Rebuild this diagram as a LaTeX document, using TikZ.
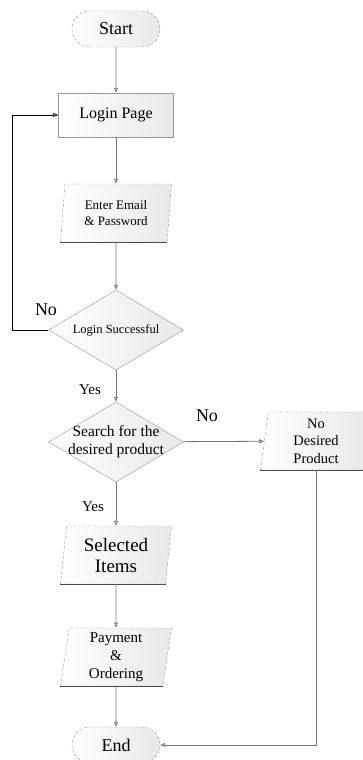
\documentclass[tikz,border=0pt]{standalone}
\usepackage{fontspec}
\setmainfont{Liberation Serif}
\usetikzlibrary{shapes.geometric,shapes.misc,arrows.meta}

\tikzset{
  shade/.style={left color=white, right color=gray!18},
  term/.style={rounded rectangle, shade, draw=gray!80, densely dashed,
    minimum width=88, minimum height=36, inner sep=0, font=\fontsize{18}{20}\selectfont},
  procbox/.style={rectangle, shade, draw=gray!80, minimum width=115, minimum height=44,
    font=\fontsize{16}{18}\selectfont},
  iobox/.style={trapezium, trapezium left angle=80, trapezium right angle=100,
    trapezium stretches body, shade, draw=gray!80, densely dashed,
    minimum width=111, minimum height=58, inner sep=0, align=center},
  decide/.style={diamond, shade, draw=gray!80, minimum width=135, minimum height=80, inner sep=0},
  lbl/.style={font=\fontsize{15}{17}\selectfont},
  line/.style={draw=gray!90!black, line width=0.8,
    -{Triangle[open,length=5,width=4]}}
}

\begin{document}
\begin{tikzpicture}[x=1pt,y=-1pt]
\useasboundingbox (0,0) rectangle (362,760);

\node[term] (start) at (116,29) {Start};
\node[procbox] (login) at (116,115) {Login Page};
\node[iobox,font=\fontsize{13}{16}\selectfont] (enter) at (116,213) {Enter Email\\\& Password};
\node[decide,label={[font=\fontsize{12.5}{15}\selectfont]center:Login Successful}] (ok) at (116,330) {};
\node[decide,label={[font=\fontsize{15.5}{18}\selectfont,align=center]center:Search for the\\desired product}] (search) at (116,442) {};
\node[iobox,font=\fontsize{14.5}{17.5}\selectfont] (nodp) at (316,441) {No\\Desired\\Product};
\node[iobox,font=\fontsize{19}{21}\selectfont] (items) at (116,555) {Selected\\Items};
\node[iobox,font=\fontsize{15}{18}\selectfont] (pay) at (116,657) {Payment\\\&\\Ordering};
\node[term] (end) at (116,745) {End};

% solid bottom edges
\draw[gray!60!black] (enter.bottom left corner) -- (enter.bottom right corner);
\draw[gray!60!black] (nodp.bottom left corner) -- (nodp.bottom right corner);
\draw[gray!60!black] (items.bottom left corner) -- (items.bottom right corner);
\draw[gray!60!black] (pay.bottom left corner) -- (pay.bottom right corner);

\node[lbl,font=\fontsize{18}{20}\selectfont] (no1) at (46,310) {No};
\node[lbl] (yes1) at (90,390) {Yes};
\node[lbl,font=\fontsize{18}{20}\selectfont] (no2) at (207,416) {No};
\node[lbl] (yes2) at (93,507) {Yes};

\coordinate (back) at (12,330);

\draw[line] (start) -- (login);
\draw[line] (login) -- (enter);
\draw[line] (enter) -- (ok);
\draw[line] (ok) -- (search);
\draw[line] (search) -- (items);
\draw[line] (items) -- (pay);
\draw[line] (pay) -- (end);
\draw[line] (search) -- (nodp);
\draw[line] (nodp.south) |- (end.east);
\draw[line,draw=black] (ok.west) -- (back) |- (login.west);
\end{tikzpicture}
\end{document}
